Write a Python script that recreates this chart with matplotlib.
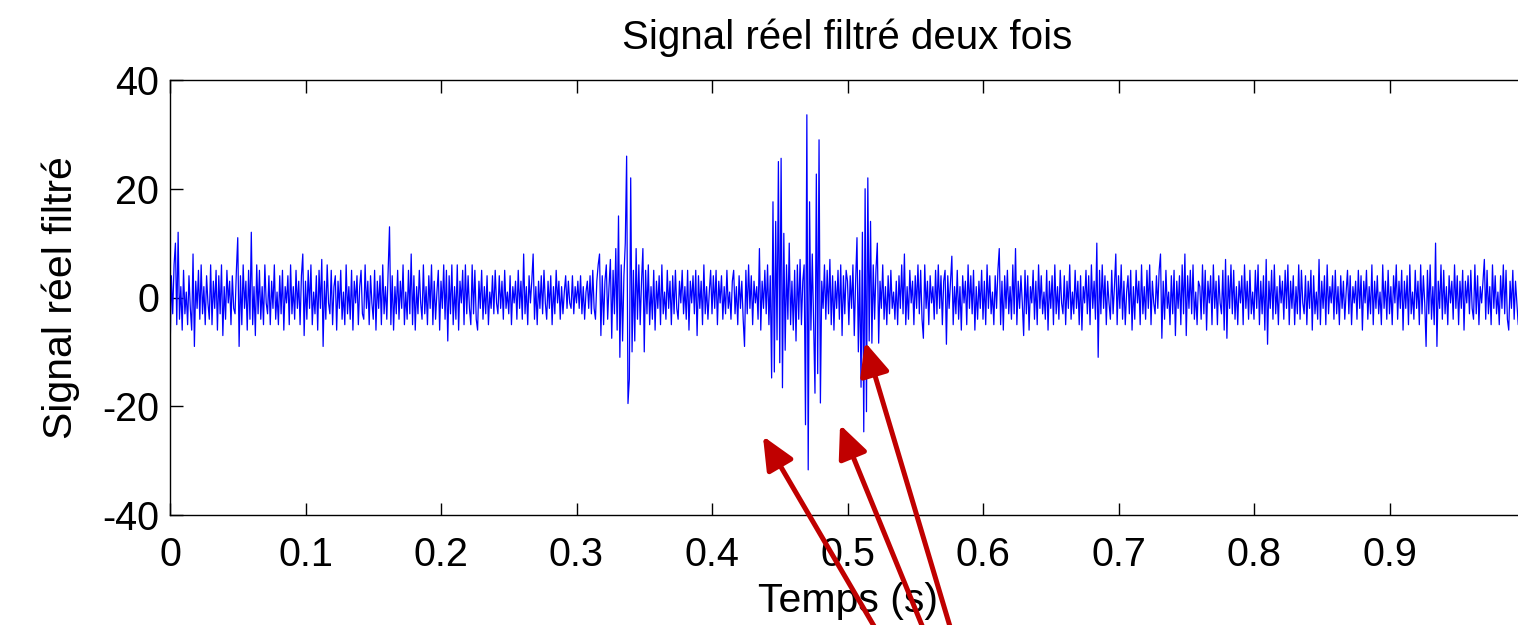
import numpy as np
import matplotlib
matplotlib.use("Agg")
import matplotlib.pyplot as plt

# ---------------- data (1 sample per ms) ----------------
fs = 1000.0
sig_000 = [-11, 4, -3, 6, 10, -5, 12, -4, 2, -6,
           5, -3, 1, -5, 4, -2, -6, 8, -9, 3,
           -2, 5, -4, 6, -3, 2, -5, 4, -1, -4,
           6, -5, 3, -2, 5, -6, 4, -3, 6, -7,
           2, -4, 5, -1, 3, -5, 4, -2, -3, 5,
           11, -9, 4, -5, 6, -2, 3, -6, 5, -4,
           12, -5, 2, -7, 6, -3, 5, -4, 2, -5,
           6, -1, -3, 4, -5, 3, -2, 6, -4, 1,
           -5, 4, -3, 5, -6, 2, -1, 4, -5, 6,
           -3, 2, -4, 5, -2, 3, -5, 4, 8, -7]
sig_100 = [3, -4, 5, -2, 6, -5, 1, -3, 4, -6,
           5, -2, 7, -9, 3, -4, 6, -1, -3, 5,
           -5, 2, 4, -6, 3, -2, 5, -4, 1, -5,
           6, -3, 2, -4, 5, -6, 3, -1, 4, -5,
           2, 5, -3, -4, 6, -2, 3, -5, 4, -1,
           -4, 5, -6, 3, -2, 4, -5, 6, -3, 2,
           -4, 5, 13, -5, 4, -6, 2, -3, 5, -4,
           3, -2, 6, -5, 1, -4, 5, -3, 8, -5,
           4, -6, 2, -3, 5, -1, -4, 6, -3, 2,
           -5, 4, -2, 6, -5, 3, -4, 1, 5, -6]
sig_200 = [3, -2, 6, -4, 5, -8, 4, -3, 6, -5,
           2, -4, 6, -6, 3, -1, 5, -5, 6, -3,
           4, -2, -5, 6, -3, 5, -4, -6, 3, -2,
           5, -4, 2, -3, 4, -5, 1, -2, 4, -3,
           5, -1, -3, 4, -2, 3, -4, 5, -2, 1,
           -3, 4, -5, 2, -1, 3, -4, 5, -2, 3,
           -4, 8, -3, 2, -5, 4, -1, 3, 8, -4,
           2, -5, 3, -2, 4, -3, 5, -1, -4, 3,
           -2, 4, -5, 2, -3, 5, -1, 3, -4, 2,
           -3, 1, 4, -2, 3, -1, -2, 4, -3, 2]
sig_300 = [-1, 3, -2, 4, -3, 2, -4, 1, 3, -2,
           4, -3, 5, -2, -4, 3, 6, 8, -7, 4,
           -5, 3, 6, -4, 2, 7, -7.5, 5, -3, 9,
           -6, 15, -11, 6, -8, 4, 10, 26, -19.5, -15,
           22, -10, 5, -8, 9, -4, 6, -5, 3, 9,
           -10, 5, -3, 6, -5, 2, -4, 5, -6, 3,
           -2, 4, -5, 6, -3, 1, -4, 5, -2, 3,
           -5, 4, -3, 5, -2, -4, 3, -1, 5, -3,
           2, -4, 5, -6, 3, -1, 4, -3, 5, -7,
           4, -2, 3, -5, 6, -3, 2, -4, 1, 5]
sig_400 = [-3, 4, -2, 5, -5, 3, -1, 4, -4, 2,
           -3, 5, -2, 1, -4, 3, 5, -3, 2, -5,
           4, -2, 3, -4, -9, 5, -3, 6, -2, 4,
           -5, 3, -1, 2, -4, 9, -6, 3, -2, 5,
           -3, 6, -5, 4, -14.8, 17.6, -13.7, 14, -7.8, 25,
           -12, 25.6, -16.6, 11.8, -9.7, 6, -4, 10, -5, 3,
           -6, 5, -8, 6, -4, 7, -5, 3, 6, -23.4,
           33.6, -31.7, 17.6, -6, 8, -5, -17.6, 22.7, -14, 29,
           -19.4, 3, -2, 6, -4, 5, -3, 7, -5, 4,
           -6, 3, -2, 5, -4, 6, -7, 4, -3, 5]
sig_500 = [3, -5, 4, -2, 6, -7, 3, 11, -10, 5,
           -16.5, 12, -24.7, 20, -21, 22, -8, 14, -8.4, 6,
           -4, 5, 10, -8.4, 3, -2, 6, -4, 2, -5,
           4, -3, 5, -2, 1, -4, 3, -5, 4, -2,
           6, -3, 8, -5, 2, -4, 5, -1, 3, -5,
           4, -2, 6, -3, 5, -4, -7.5, 6, -2, 3,
           -5, 4, -1, 2, -4, 5, -3, 6, -2, 4,
           -5, 3, 5, -8.6, 4, -2, 3, 7.6, -5, 2,
           -3, 5, -4, 2, -6, 4, -1, 3, -5, 6,
           -2, 4, -3, 5, -6, 2, -4, 3, -2, 5]
sig_600 = [-4, 3, -5, 6, -2, 4, -3, 1, -5, 4,
           -2, 5, 9, -5, 3, -6, 4, -2, 5, -3,
           2, -4, 6, -3, 9, -5, 3, -2, 4, -1,
           -7, 5, -3, 4, -6, 2, -1, 5, -4, 3,
           -5, 6, -2, 4, -3, 1, -4, 5, -6, 3,
           -2, 4, -5, 6, -3, 2, -4, 5, -1, -3,
           4, -5, 3, -2, 6, -4, 1, -3, 5, -2,
           3, -5, 4, -6, 2, -1, 5, -3, 4, -5,
           6, -2, 3, -4, 10, -11, 5, -3, 6, -2,
           4, -5, 3, -1, -4, 5, -3, 2, 8, -5]
sig_700 = [4, -2, 6, -4, 3, -5, 1, 4, -3, 5,
           -6, 2, -4, 5, -1, 3, -5, 6, -3, 2,
           -4, 5, -2, 6, -5, 3, -1, -3, 4, -2,
           5, 8, -7.5, 3, -4, 5, -2, 1, -5, 4,
           -3, 5, -7, 3, -2, 4, -5, 6, -3, 8,
           -7, 4, -2, 5, -3, 6, -4, 1, -5, 3,
           2, -4, 6, -3, 5, -6, 3, -1, 4, -5,
           6, -2, 3, -5, 4, -1, -3, 5, -6, 7,
           -7.5, 4, -2, 6, -3, 5, -4, 2, -5, 3,
           -1, 4, -5, 6, -2, 3, -4, 5, -3, 1]
sig_800 = [-4, 5, -2, 6, -5, 3, -3, 4, -6, 7,
           -8.6, 3, -2, 5, -4, 6, -3, 2, -5, 4,
           -1, 3, -4, 5, -2, 6, -5, 3, -2, 4,
           -5, 2, -3, 6, -4, 5, -1, -3, 4, -5,
           3, -2, 5, -6, 4, -3, 1, -4, 7, -5,
           3, -2, 4, -5, 6, -3, 2, -1, 4, -4,
           5, -3, 2, -5, 4, -2, 3, -4, 1, 5,
           -3, 4, -5, 2, -1, 3, -4, 5, -2, 4,
           -6, 3, -1, 5, -4, 2, -3, 6, -5, 3,
           -2, 4, -3, 1, -5, 6, -2, 3, -4, 5]
sig_900 = [-3, 2, -5, 4, -1, 6, -4, 3, -2, 5,
           -6, 3, -2, 4, -5, 6, -3, 1, -4, 5,
           -2, 3, -5, 6, -3, 4, -1, -9, 5, -3,
           6, -4, 2, -5, 10, -9, 3, -2, 6, -4,
           5, -3, 2, -5, 4, -1, 3, -4, 6, -2,
           4, -5, 3, -2, 5, -6, 3, -1, 4, -3,
           5, -2, -4, 6, -3, 4, -5, 2, -1, 3,
           7, -4, 5, -3, 2, -5, 6, -2, 4, -3,
           1, -5, 4, -2, 6, -3, 5, -4, -6, 3,
           -2, 5, -4, 3, -1, -5, 4, -3, 6, -2]

x_ticks = [0, 0.1, 0.2, 0.3, 0.4, 0.5, 0.6, 0.7, 0.8, 0.9]
x_tick_labels = ["0", "0.1", "0.2", "0.3", "0.4", "0.5", "0.6", "0.7", "0.8", "0.9"]
y_ticks = [-40, -20, 0, 20, 40]
y_tick_labels = ["-40", "-20", "0", "20", "40"]

title = "Signal réel filtré deux fois"
x_label = "Temps (s)"
y_label = "Signal réel filtré"

# arrow tips (data coords) and tails (figure pixels, below the figure edge)
arrow_tips = [(0.4376, -25.5), (0.4945, -23.4), (0.5129, -8.2)]
arrow_tails_px = [(888, -25), (932, -25), (957, -25)]

# ---------------- figure ----------------
plt.rcParams['font.family'] = ['Liberation Sans', 'DejaVu Sans']
W, H, DPI = 1518, 625, 100
fig = plt.figure(figsize=(W / DPI, H / DPI), dpi=DPI)
ax = fig.add_axes([170 / W, 1 - 515 / H, 1355 / W, 435 / H])

signal = np.concatenate([sig_000, sig_100, sig_200, sig_300, sig_400,
                         sig_500, sig_600, sig_700, sig_800, sig_900]).astype(float)
t = np.arange(len(signal)) / fs
ax.plot(t, signal, color=(0, 0, 1), lw=0.9)

ax.set_xlim(0, 1.0)
ax.set_ylim(-40, 40)
ax.set_xticks(x_ticks)
ax.set_xticklabels(x_tick_labels)
ax.set_yticks(y_ticks)
ax.set_yticklabels(y_tick_labels)
ax.tick_params(direction='in', length=9, width=1, top=True, right=False,
               labelsize=28.5, colors='black')
ax.tick_params(axis='x', pad=15)
ax.tick_params(axis='y', pad=8)
for s in ax.spines.values():
    s.set_color('black')
    s.set_linewidth(1.0)

ax.set_title(title, fontsize=29, pad=22)
ax.set_xlabel(x_label, fontsize=29.5, labelpad=6)
ax.set_ylabel(y_label, fontsize=29.5, labelpad=16)

for tip, tail in zip(arrow_tips, arrow_tails_px):
    ax.annotate("", xy=tip, xycoords='data', xytext=tail, textcoords='figure pixels',
                arrowprops=dict(arrowstyle='-|>,head_length=1.0,head_width=0.45',
                                mutation_scale=20, lw=3.6, color='#C00000',
                                shrinkA=0, shrinkB=0),
                zorder=10, annotation_clip=False)

fig.savefig("out.png", dpi=DPI)
